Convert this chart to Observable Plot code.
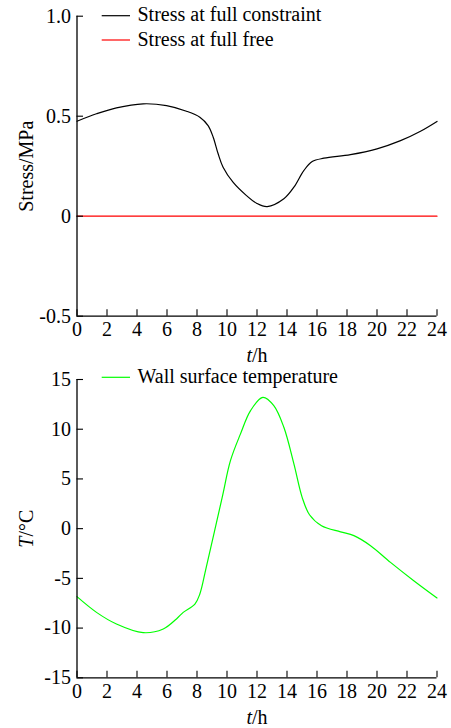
<!DOCTYPE html>
<html><head><meta charset="utf-8">
<script src="https://cdn.jsdelivr.net/npm/d3@7"></script>
<script src="https://cdn.jsdelivr.net/npm/@observablehq/plot@0.6"></script>
<style>
body{margin:0;background:#fff;}
#wrap{position:relative;width:451px;height:728px;font-family:"Liberation Serif","Times New Roman",serif;}
#wrap svg{display:block;}
#legend{position:absolute;left:0;top:0;pointer-events:none;}
</style></head>
<body><div id="wrap"></div>
<script>
// ---- data ----
const xTicks = [0,2,4,6,8,10,12,14,16,18,20,22,24];
const stressTicks = [-0.5, 0, 0.5, 1.0];
const tempTicks = [-15,-10,-5,0,5,10,15];

const constraintHours = [0,1.3,2.63,4.41,5.97,7.3,8.19,8.74,9.08,9.41,9.74,10.4,11.3,11.97,12.68,13.79,14.46,15.12,15.68,16.46,18.23,20.0,21.57,22.9,24];
const constraintStress = [0.475,0.512,0.542,0.562,0.553,0.525,0.495,0.453,0.395,0.312,0.245,0.17,0.103,0.065,0.048,0.087,0.145,0.228,0.273,0.29,0.308,0.337,0.378,0.425,0.474];

const freeHours = [0,24];
const freeStress = [0,0];

const tempHours = [0,1.3,2.63,4.41,5.75,6.63,7.08,7.86,8.19,8.6,9.68,10.23,10.9,11.57,12.39,13.12,13.79,14.46,15.01,15.5,16.3,17.57,18.46,19.57,20.9,22.45,24];
const tempValues = [-6.84,-8.42,-9.59,-10.46,-10.09,-9.08,-8.42,-7.58,-6.57,-4.0,3.15,6.84,9.53,11.87,13.2,12.37,10.19,6.51,3.15,1.4,0.3,-0.32,-0.7,-1.71,-3.39,-5.23,-6.97];

const legendTop = [
  {label: "Stress at full constraint", color: "black"},
  {label: "Stress at full free", color: "red"}
];
const legendBottom = [{label: "Wall surface temperature", color: "#00ff00"}];

// ---- build ----
const constraintData = constraintHours.map((t,i)=>({t, v: constraintStress[i]}));
const freeData = freeHours.map((t,i)=>({t, v: freeStress[i]}));
const tempData = tempHours.map((t,i)=>({t, v: tempValues[i]}));

const FONT = '"Liberation Serif","Times New Roman",serif';
const W = 451, ML = 76.5, MR = 14.5, TICK = 6.5;

function panel({height, marginTop, marginBottom, yDomain, yTicks, yFmt, yLabel, lines}) {
  const innerH = height - marginTop - marginBottom;
  const innerW = W - ML - MR;
  return Plot.plot({
    width: W, height, marginLeft: ML, marginRight: MR, marginTop, marginBottom,
    style: {fontFamily: FONT, fontSize: "20px", background: "white", color: "black", overflow: "visible"},
    x: {domain: [0,24], ticks: xTicks, tickFormat: d => String(d), tickSize: 0, tickPadding: 6,
        label: "t/h", labelAnchor: "center", labelOffset: 46, labelArrow: "none"},
    y: {domain: yDomain, ticks: yTicks, tickFormat: yFmt, tickSize: 0, tickPadding: 6,
        label: yLabel, labelAnchor: "center", labelOffset: 58, labelArrow: "none"},
    marks: [
      ...lines.map(l => Plot.line(l.data, {x: "t", y: "v", stroke: l.color, strokeWidth: 1.2, curve: l.curve || "linear"})),
      Plot.ruleX([0], {stroke: "black", strokeWidth: 1.3}),
      Plot.ruleY([yDomain[0]], {stroke: "black", strokeWidth: 1.3}),
      Plot.ruleX(xTicks, {x: d => d, stroke: "black", strokeWidth: 1.1, insetTop: innerH - TICK}),
      Plot.ruleY(yTicks, {y: d => d, stroke: "black", strokeWidth: 1.1, insetRight: innerW - TICK})
    ]
  });
}

const topPanel = panel({
  height: 368, marginTop: 15.7, marginBottom: 52.3,
  yDomain: [-0.5, 1], yTicks: stressTicks,
  yFmt: d => d === 0 ? "0" : d.toFixed(1),
  yLabel: "Stress/MPa",
  lines: [
    {data: freeData, color: "red"},
    {data: constraintData, color: "black", curve: "catmull-rom"}
  ]
});
const bottomPanel = panel({
  height: 360, marginTop: 11, marginBottom: 50.7,
  yDomain: [-15, 15], yTicks: tempTicks,
  yFmt: d => String(d),
  yLabel: "T/°C",
  lines: [{data: tempData, color: "#00ff00", curve: "catmull-rom"}]
});

function italicize(svg, axis, first, rest) {
  svg.querySelectorAll(`[aria-label="${axis}-axis label"] text`).forEach(t => {
    t.textContent = "";
    const a = document.createElementNS("http://www.w3.org/2000/svg", "tspan");
    a.setAttribute("font-style", "italic"); a.textContent = first;
    const b = document.createElementNS("http://www.w3.org/2000/svg", "tspan");
    b.textContent = rest;
    t.appendChild(a); t.appendChild(b);
  });
}
italicize(topPanel, "x", "t", "/h");
italicize(bottomPanel, "x", "t", "/h");
italicize(bottomPanel, "y", "T", "/°C");

const wrap = document.getElementById("wrap");
wrap.appendChild(topPanel);
wrap.appendChild(bottomPanel);

// legend overlay
const NS = "http://www.w3.org/2000/svg";
const leg = document.createElementNS(NS, "svg");
leg.setAttribute("id", "legend");
leg.setAttribute("width", W); leg.setAttribute("height", 728);
function addLegend(items, y0, step) {
  items.forEach((it, i) => {
    const y = y0 + i * step;
    const ln = document.createElementNS(NS, "line");
    ln.setAttribute("x1", 101.7); ln.setAttribute("x2", 130);
    ln.setAttribute("y1", y); ln.setAttribute("y2", y);
    ln.setAttribute("stroke", it.color); ln.setAttribute("stroke-width", 1.2);
    leg.appendChild(ln);
    const tx = document.createElementNS(NS, "text");
    tx.setAttribute("x", 137.5); tx.setAttribute("y", y + 5.5);
    tx.setAttribute("font-family", FONT); tx.setAttribute("font-size", 20);
    tx.textContent = it.label;
    leg.appendChild(tx);
  });
}
addLegend(legendTop, 15.7, 24.3);
addLegend(legendBottom, 377.3, 24);
wrap.appendChild(leg);
</script>
</body></html>
